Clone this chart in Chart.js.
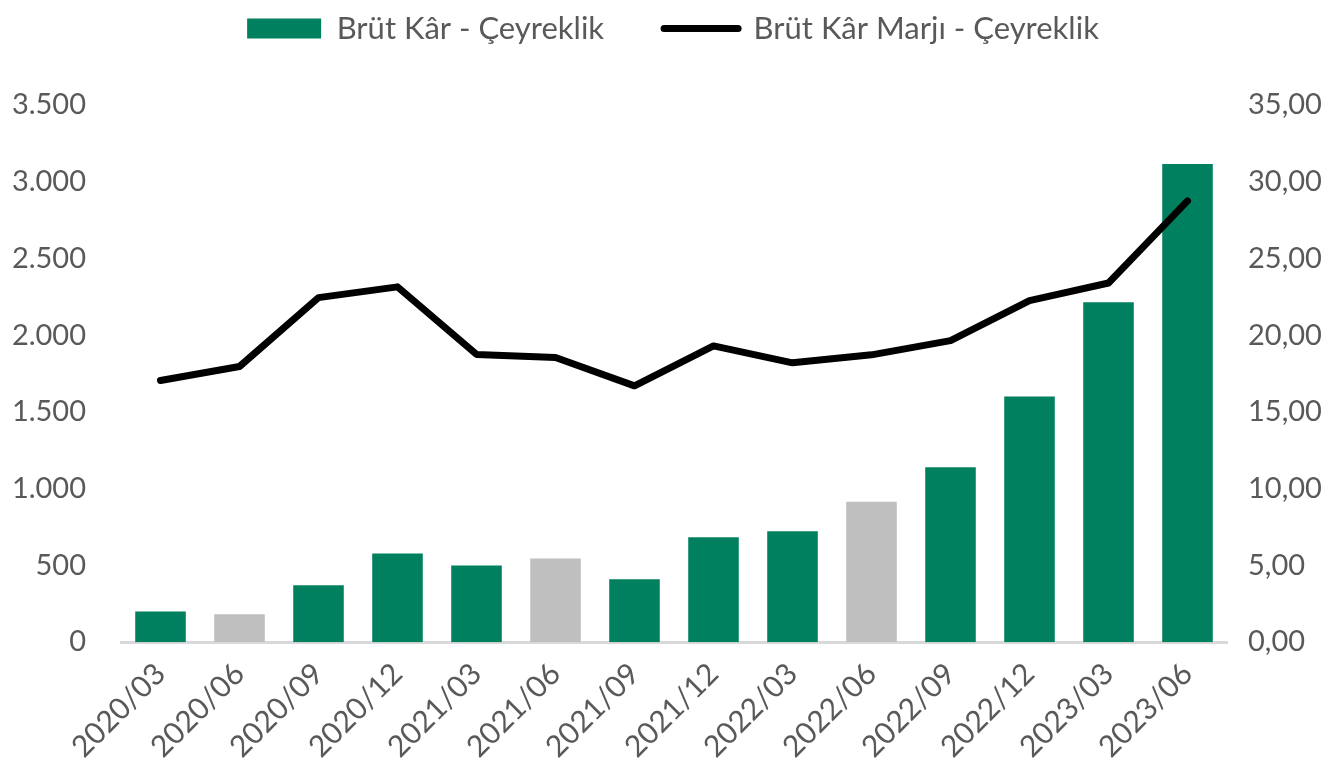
<!DOCTYPE html>
<html>
<head>
<meta charset="utf-8">
<script src="https://cdn.jsdelivr.net/npm/chart.js@4.4.0/dist/chart.umd.min.js"></script>
<style>
  html, body { margin: 0; padding: 0; background: #fff; }
  #wrap { width: 1342px; height: 784px; }
</style>
</head>
<body>
<div id="wrap"><canvas id="myChart"></canvas></div>
<script>
var quarters = ["2020/03", "2020/06", "2020/09", "2020/12", "2021/03", "2021/06", "2021/09",
                "2021/12", "2022/03", "2022/06", "2022/09", "2022/12", "2023/03", "2023/06"];
var grossProfit = [200, 182, 370, 578, 500, 545, 410, 683, 722, 915, 1139, 1600, 2215, 3115];
var grossMargin = [17.05, 17.96, 22.45, 23.15, 18.75, 18.55, 16.7, 19.3, 18.2, 18.72, 19.65, 22.25, 23.4, 28.75];
// gray bars
var grayIdx = [1, 5, 9];

var green = "#00805e";
var gray = "#bfbfbf";
var barColors = quarters.map(function (q, i) {
    return grayIdx.indexOf(i) >= 0 ? gray : green;
});

function trThousands(v) {
    return String(v).replace(/\B(?=(\d{3})+(?!\d))/g, ".");
}

// push the plot down a bit below the legend
var legendGap = {
    id: 'legendGap',
    beforeInit: function (chart) {
        var fit = chart.legend.fit;
        chart.legend.fit = function () {
            fit.bind(chart.legend)();
            this.height += 51;
        };
    }
};

Chart.defaults.font.family = "Lato, 'Open Sans', sans-serif";
Chart.defaults.color = "#595959";

var ctx = document.getElementById("myChart");
var myChart = new Chart(ctx, {
    type: 'bar',
    data: {
        labels: quarters,
        datasets: [
            {
                type: 'line',
                label: "Brüt Kâr Marjı - Çeyreklik",
                data: grossMargin,
                yAxisID: 'y1',
                borderColor: "#000",
                backgroundColor: "#000",
                borderWidth: 7,
                pointRadius: 0,
                tension: 0,
                borderCapStyle: 'round',
                borderJoinStyle: 'round',
                pointStyle: 'line',
                order: 0
            },
            {
                label: "Brüt Kâr - Çeyreklik",
                data: grossProfit,
                yAxisID: 'y',
                backgroundColor: barColors,
                categoryPercentage: 1,
                barPercentage: 0.64,
                pointStyle: 'rect',
                order: 1
            }
        ]
    },
    options: {
        responsive: true,
        maintainAspectRatio: false,
        animation: false,
        layout: { padding: { left: 12, right: 8, top: -47, bottom: 13 } },
        plugins: {
            tooltip: { enabled: false },
            legend: {
                position: 'top',
                reverse: true,
                labels: {
                    font: { size: 31 },
                    color: "#595959",
                    usePointStyle: true,
                    pointStyleWidth: 74,
                    boxHeight: 20,
                    padding: 60,
                    generateLabels: function (chart) {
                        var items = Chart.defaults.plugins.legend.labels.generateLabels(chart);
                        items.forEach(function (it) {
                            if (it.datasetIndex === 1) {
                                it.fillStyle = green;
                                it.strokeStyle = green;
                                it.lineWidth = 0;
                            } else {
                                it.lineWidth = 7;
                                it.lineCap = 'round';
                            }
                        });
                        return items;
                    }
                }
            }
        },
        scales: {
            x: {
                grid: { display: false },
                border: { color: "#d9d9d9", width: 3 },
                afterFit: function (scale) {
                    scale.paddingLeft = 0;
                    scale.paddingRight = 0;
                },
                ticks: {
                    font: { size: 30 },
                    color: "#595959",
                    maxRotation: 45,
                    minRotation: 45,
                    padding: 6
                }
            },
            y: {
                position: 'left',
                min: 0,
                max: 3500,
                grid: { display: false, drawTicks: false },
                border: { display: false },
                afterFit: function (scale) { scale.width = 109; },
                ticks: {
                    stepSize: 500,
                    font: { size: 29 },
                    color: "#595959",
                    padding: 35,
                    callback: function (v) { return trThousands(v); }
                }
            },
            y1: {
                position: 'right',
                min: 0,
                max: 35,
                grid: { display: false, drawTicks: false },
                border: { display: false },
                afterFit: function (scale) { scale.width = 107; },
                ticks: {
                    stepSize: 5,
                    font: { size: 29 },
                    color: "#595959",
                    padding: 21,
                    callback: function (v) { return v.toFixed(2).replace('.', ','); }
                }
            }
        }
    },
    plugins: [legendGap]
});
</script>
</body>
</html>
